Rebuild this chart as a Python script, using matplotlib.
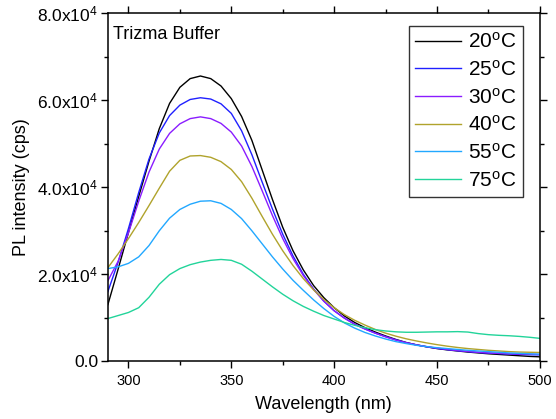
import matplotlib
matplotlib.use('Agg')
import matplotlib.pyplot as plt
from matplotlib.ticker import MultipleLocator, FuncFormatter

plt.rcParams['font.family'] = ['Liberation Sans', 'DejaVu Sans']
plt.rcParams['mathtext.fontset'] = 'custom'
plt.rcParams['mathtext.rm'] = 'Liberation Sans'
plt.rcParams['mathtext.it'] = 'Liberation Sans:italic'

# wavelength grid (nm)
wl = list(range(290, 505, 5))

# PL intensity (cps)
i20 = [13000, 21200, 29600, 37900, 46000, 53500, 59300, 63000, 65000, 65600,
       65000, 63300, 60400, 56300, 50800, 44000, 37200, 30800, 25400, 21000,
       17400, 14600, 12300, 10400, 8900, 7700, 6700, 5800, 5000, 4300,
       3750, 3300, 2900, 2600, 2350, 2100, 1900, 1700, 1550, 1400,
       1250, 1100, 1000]
i25 = [16000, 22800, 30500, 38800, 46500, 52500, 56500, 58900, 60200, 60600,
       60300, 59200, 57000, 53000, 47500, 41200, 35000, 29200, 24200, 20000,
       16600, 13800, 11600, 9900, 8500, 7400, 6450, 5650, 4900, 4250,
       3750, 3300, 2950, 2650, 2400, 2200, 2000, 1850, 1750, 1650,
       1550, 1500, 1450]
i30 = [18500, 23000, 29500, 36800, 43500, 48800, 52400, 54600, 55800, 56200,
       55800, 54700, 52700, 49500, 44800, 39200, 33500, 28200, 23600, 19700,
       16500, 13800, 11600, 9900, 8500, 7400, 6450, 5600, 4850, 4250,
       3750, 3350, 3000, 2700, 2450, 2250, 2050, 1900, 1800, 1700,
       1650, 1600, 1550]
i40 = [21500, 24700, 28200, 31900, 35800, 39800, 43700, 46200, 47200, 47300,
       46900, 45900, 44100, 41300, 37500, 33300, 29200, 25400, 22000, 19000,
       16400, 14200, 12300, 10700, 9400, 8300, 7300, 6450, 5750, 5150,
       4650, 4200, 3800, 3450, 3150, 2900, 2700, 2500, 2350, 2200,
       2100, 2050, 2000]
i55 = [21300, 21700, 22500, 24000, 26600, 30000, 32900, 34900, 36100, 36800,
       36900, 36300, 34900, 32800, 30000, 27000, 24000, 21200, 18600, 16300,
       14100, 12100, 10300, 8800, 7600, 6600, 5800, 5100, 4500, 4050,
       3650, 3350, 3100, 2900, 2700, 2500, 2350, 2200, 2050, 1900,
       1800, 1700, 1600]
i75 = [9800, 10500, 11200, 12300, 14700, 17700, 19900, 21300, 22200, 22800,
       23200, 23400, 23200, 22300, 20700, 18900, 17100, 15400, 13900, 12600,
       11500, 10500, 9700, 8900, 8250, 7700, 7250, 6950, 6750, 6650,
       6650, 6700, 6750, 6750, 6800, 6700, 6350, 6100, 5950, 5850,
       5700, 5500, 5250]

series = [i20, i25, i30, i40, i55, i75]
labels = ['20', '25', '30', '40', '55', '75']
colors = ['#000000', '#2020ff', '#8a1cff', '#b0a32c', '#22a8ff', '#22d49a']

fig = plt.figure(figsize=(5.56, 4.19), dpi=100)
ax = fig.add_axes([0.194, 0.138, 0.777, 0.830])

for y, lab, c in zip(series, labels, colors):
    ax.plot(wl, y, color=c, lw=1.0, solid_joinstyle='round',
            label=lab + r'$^{\mathrm{o}}$C')

ax.set_xlim(290, 500)
ax.set_ylim(0, 80000)
ax.xaxis.set_major_locator(MultipleLocator(50))
ax.xaxis.set_minor_locator(MultipleLocator(25))
ax.yaxis.set_major_locator(MultipleLocator(20000))
ax.yaxis.set_minor_locator(MultipleLocator(10000))


def yfmt(v, pos):
    if v == 0:
        return '0.0'
    return r'%.1fx10$^{4}$' % (v / 10000)


ax.yaxis.set_major_formatter(FuncFormatter(yfmt))

ax.tick_params(which='both', direction='out', top=True, right=True,
               labeltop=False, labelright=False, width=1.0)
ax.tick_params(which='major', length=5)
ax.tick_params(which='minor', length=3)
ax.tick_params(axis='x', labelsize=10.5, pad=4)
ax.tick_params(axis='y', labelsize=12.5, pad=2)
for s in ax.spines.values():
    s.set_linewidth(1.1)

ax.set_xlabel('Wavelength (nm)', fontsize=13, labelpad=6)
ax.set_ylabel('PL intensity (cps)', fontsize=13, labelpad=5)

ax.text(0.012, 0.94, 'Trizma Buffer', transform=ax.transAxes, fontsize=13,
        ha='left', va='center')

leg = ax.legend(loc='upper right', bbox_to_anchor=(0.9606, 0.9649),
                borderaxespad=0, fontsize=15, frameon=True, fancybox=False,
                edgecolor='black', handlelength=2.2, handletextpad=0.35,
                labelspacing=0.37, borderpad=0.3)
leg.get_frame().set_linewidth(1.0)

fig.savefig('out.png', dpi=100)
